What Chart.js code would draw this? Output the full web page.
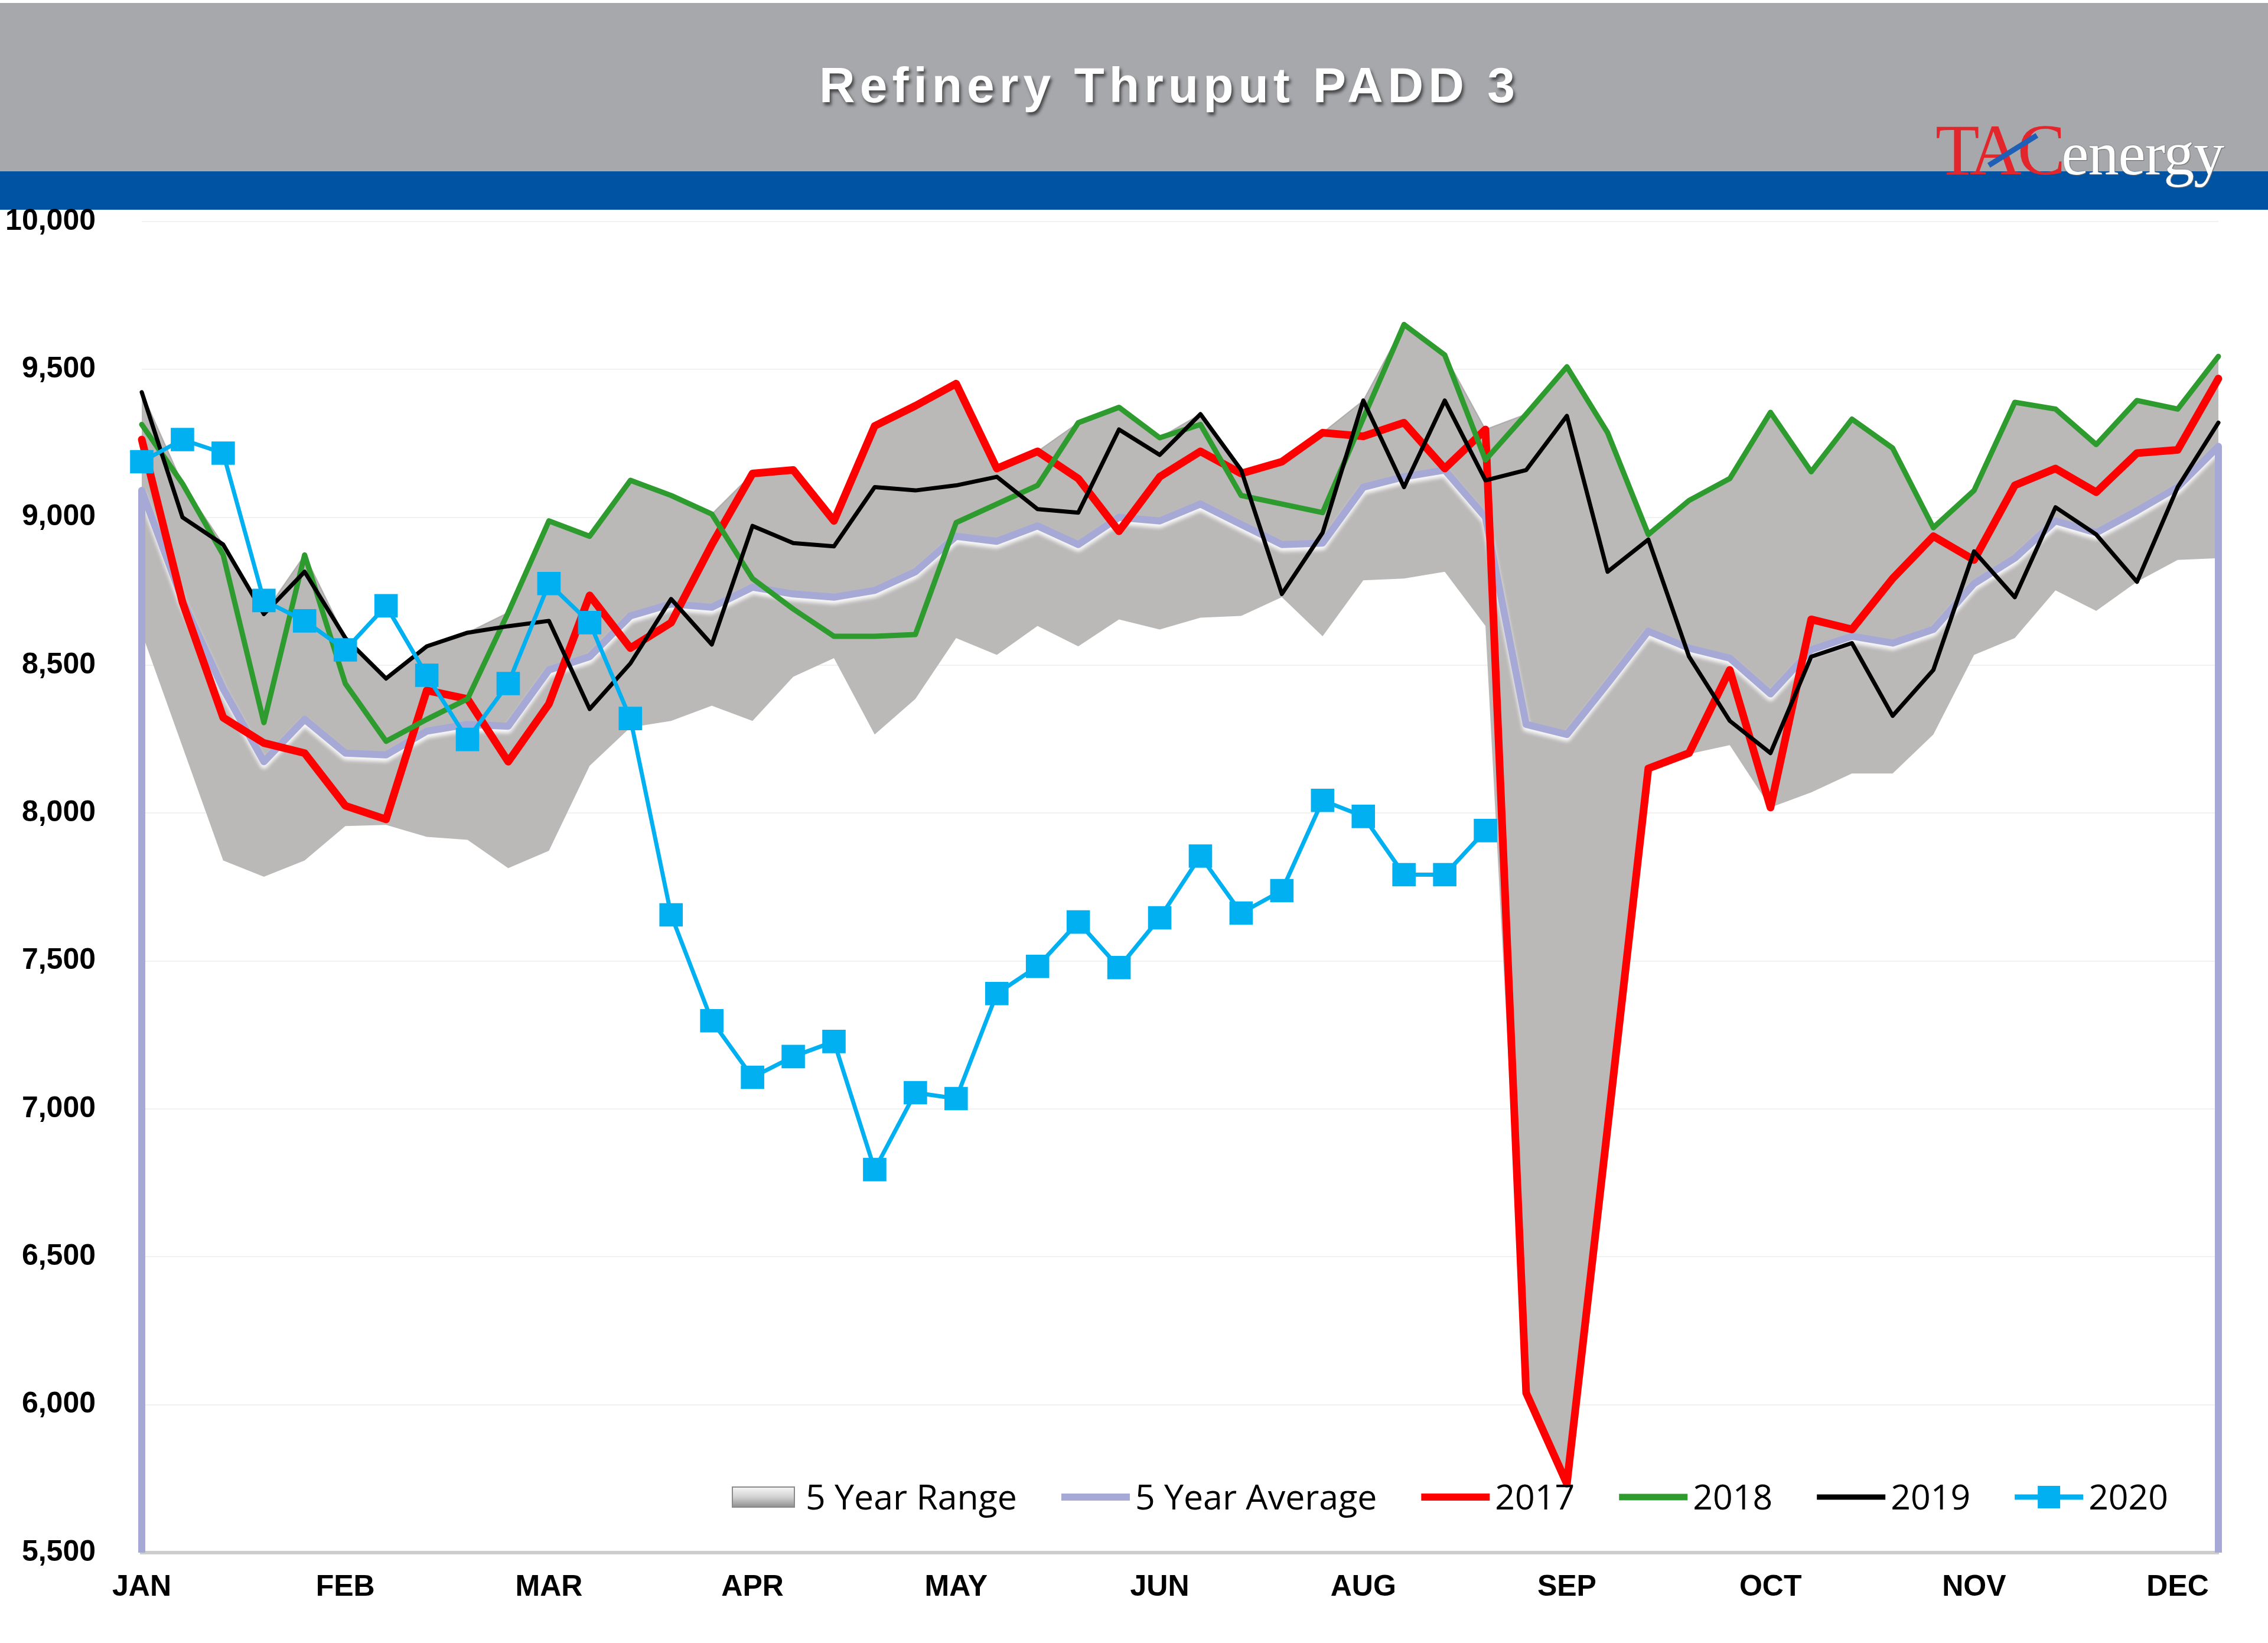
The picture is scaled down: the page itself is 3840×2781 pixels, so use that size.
<!DOCTYPE html>
<html>
<head>
<meta charset="utf-8">
<title>Refinery Thruput PADD 3</title>
<script src="https://cdn.jsdelivr.net/npm/chart.js@4.4.1/dist/chart.umd.min.js"></script>
<style>
  html, body { margin: 0; padding: 0; background: #fff; }
  #page { position: relative; width: 3840px; height: 2781px; overflow: hidden; background: #fff; }
  #band { position: absolute; left: 0; top: 5px; width: 3840px; height: 285px; background: #a7a8ac; }
  #stripe { position: absolute; left: 0; top: 290px; width: 3840px; height: 65px; background: #0053a3; }
  #title {
    position: absolute; left: 1980px; top: 102px; transform: translateX(-50%);
    font: bold 84px "Liberation Sans", Arial, sans-serif; line-height: 84px;
    letter-spacing: 8px; color: #fff; white-space: nowrap;
    text-shadow: 3px 5px 5px rgba(40, 40, 40, 0.75);
  }
  #logo { position: absolute; left: 3277px; top: 184px; white-space: nowrap; line-height: 1; }
  #logo .tac { font: 122px "Liberation Serif", "Times New Roman", serif; color: #e3262b; letter-spacing: -7px; }
  #logo .energy { font: 104px "Liberation Serif", "Times New Roman", serif; color: #fff; letter-spacing: -1px;
    text-shadow: 0 0 2px #6d6d6d, 1px 1px 1px #6d6d6d; }
  #slash { position: absolute; left: 3360px; top: 250px; width: 96px; height: 9px; background: #1f5fb5; transform: rotate(-32deg); }
  #chart { position: absolute; left: 0; top: 0; }
</style>
</head>
<body>
<div id="page">
  <div id="band"></div>
  <div id="stripe"></div>
  <div id="title">Refinery Thruput PADD 3</div>
  <div id="logo"><span class="tac">TAC</span><span class="energy">energy</span></div>
  <div id="slash"></div>
  <canvas id="chart" width="3840" height="2781"></canvas>
</div>
<script>
// weekly categories, month names shown every 5th week
const weeks = [1, 2, 3, 4, 5, 6, 7, 8, 9, 10, 11, 12, 13, 14, 15, 16, 17, 18, 19, 20, 21, 22, 23, 24, 25, 26,
    27, 28, 29, 30, 31, 32, 33, 34, 35, 36, 37, 38, 39, 40, 41, 42, 43, 44, 45, 46, 47, 48, 49, 50, 51, 52];
const monthTicks = ["JAN", "FEB", "MAR", "APR", "MAY", "JUN", "AUG", "SEP", "OCT", "NOV", "DEC"];

const rangeLow = [8610, 8225, 7840, 7785, 7840, 7956, 7960, 7920, 7910, 7814, 7873, 8160, 8290,
    8312, 8363, 8312, 8461, 8524, 8266, 8386, 8592, 8535, 8633, 8564, 8655, 8621,
    8661, 8667, 8730, 8598, 8787, 8793, 8816, 8633, 6040, 5733, 6937, 8151, 8200,
    8230, 8019, 8070, 8134, 8134, 8266, 8535, 8592, 8753, 8684, 8782, 8856, 8862];
const rangeHigh = [9423, 9114, 8908, 8673, 8873, 8592, 8455, 8564, 8610, 8678, 8988, 8936, 9125,
    9074, 9011, 9148, 9160, 8988, 9309, 9377, 9452, 9165, 9223, 9320, 9372, 9269,
    9349, 9160, 9188, 9286, 9395, 9652, 9549, 9297, 9349, 9509, 9286, 8942, 9057,
    9131, 9355, 9154, 9332, 9234, 8965, 9091, 9389, 9366, 9246, 9395, 9366, 9544];
const avg5 = [9091, 8720, 8420, 8174, 8317, 8203, 8197, 8277, 8300, 8294, 8484, 8529, 8667,
    8707, 8696, 8764, 8741, 8730, 8753, 8816, 8936, 8919, 8971, 8908, 9000, 8988,
    9045, 8976, 8908, 8913, 9102, 9137, 9160, 9000, 8300, 8266, 8438, 8615, 8558,
    8524, 8403, 8552, 8598, 8575, 8621, 8776, 8862, 8988, 8948, 9022, 9102, 9240];
const y2017 = [9263, 8713, 8323, 8237, 8203, 8025, 7979, 8415, 8386, 8174, 8369, 8736, 8558,
    8644, 8908, 9148, 9160, 8988, 9309, 9377, 9452, 9165, 9223, 9131, 8953, 9137,
    9223, 9148, 9188, 9286, 9274, 9320, 9165, 9297, 6040, 5733, 6937, 8151, 8203,
    8484, 8019, 8655, 8621, 8793, 8936, 8856, 9108, 9165, 9085, 9217, 9228, 9469];
const y2018 = [9314, 9114, 8873, 8306, 8873, 8438, 8243, 8317, 8386, 8678, 8988, 8936, 9125,
    9074, 9011, 8793, 8690, 8598, 8598, 8604, 8982, 9045, 9108, 9320, 9372, 9269,
    9314, 9074, 9045, 9016, 9335, 9652, 9549, 9194, 9349, 9509, 9286, 8942, 9057,
    9131, 9355, 9154, 9332, 9234, 8965, 9091, 9389, 9366, 9246, 9395, 9366, 9544];
const y2019 = [9423, 9000, 8908, 8673, 8816, 8592, 8455, 8564, 8610, 8632, 8650, 8352, 8506,
    8724, 8570, 8971, 8913, 8902, 9102, 9091, 9108, 9137, 9028, 9016, 9297, 9211,
    9349, 9160, 8741, 8948, 9395, 9102, 9395, 9125, 9160, 9343, 8816, 8925, 8529,
    8312, 8203, 8529, 8575, 8329, 8484, 8885, 8730, 9034, 8942, 8782, 9102, 9320];
const y2020 = [9188, 9263, 9217, 8719, 8650, 8552, 8701, 8466, 8249, 8438, 8776, 8644, 8320,
    7656, 7298, 7107, 7177, 7228, 6795, 7055, 7035, 7390, 7482, 7632, 7478, 7646,
    7855, 7662, 7738, 8043, 7989, 7792, 7792, 7941];

Chart.defaults.font.family = '"Liberation Sans", Arial, sans-serif';
Chart.defaults.color = "#000";

// soft white glow under the average line, plus the vertical drops at both ends
const avgDrops = {
    id: "avgDrops",
    beforeDatasetDraw(chart, args) {
        const ds = chart.data.datasets[args.index];
        if (ds.label !== "5 Year Average") return;
        const ctx = chart.ctx;
        ctx.save();
        ctx.shadowColor = "rgba(255,255,255,0.9)";
        ctx.shadowBlur = 6;
        ctx.shadowOffsetY = 6;
    },
    afterDatasetDraw(chart, args) {
        const ds = chart.data.datasets[args.index];
        if (ds.label !== "5 Year Average") return;
        const { ctx, chartArea, scales } = chart;
        ctx.restore();
        ctx.save();
        ctx.strokeStyle = ds.borderColor;
        ctx.lineWidth = 12;
        [0, ds.data.length - 1].forEach((i) => {
            const px = scales.x.getPixelForValue(i);
            ctx.beginPath();
            ctx.moveTo(px, scales.y.getPixelForValue(ds.data[i]));
            ctx.lineTo(px, chartArea.bottom);
            ctx.stroke();
        });
        ctx.restore();
    },
};

// legend drawn inside the plot, near the bottom
const insideLegend = {
    id: "insideLegend",
    afterDraw(chart) {
        const ctx = chart.ctx;
        const cy = chart.chartArea.bottom - 94;
        let x = 1240;
        ctx.save();
        ctx.font = '59px "Open Sans", "Liberation Sans", sans-serif';
        ctx.textBaseline = "alphabetic";
        chart.data.datasets.forEach((ds) => {
            if (!ds.label) return;
            if (ds.fill) {
                const g = ctx.createLinearGradient(0, cy - 17, 0, cy + 17);
                g.addColorStop(0, "#f6f6f6");
                g.addColorStop(0.5, "#d2d2d2");
                g.addColorStop(1, "#8f8f8f");
                ctx.fillStyle = g;
                ctx.fillRect(x, cy - 17, 105, 34);
                ctx.strokeStyle = "#8a8a8a";
                ctx.lineWidth = 2;
                ctx.strokeRect(x, cy - 17, 105, 34);
                x += 105 + 19;
            } else {
                ctx.strokeStyle = ds.borderColor;
                ctx.lineWidth = Math.min(ds.borderWidth + 2, 12);
                ctx.beginPath();
                ctx.moveTo(x, cy);
                ctx.lineTo(x + 116, cy);
                ctx.stroke();
                if (ds.pointRadius) {
                    ctx.fillStyle = ds.pointBackgroundColor;
                    ctx.fillRect(x + 58 - 19, cy - 19, 38, 38);
                }
                x += 116 + 9;
            }
            ctx.fillStyle = "#000";
            ctx.fillText(ds.label, x, cy + 21);
            x += ctx.measureText(ds.label).width + 75;
        });
        ctx.restore();
    },
};

const lineBase = { tension: 0, pointRadius: 0, borderJoinStyle: "round", borderCapStyle: "round", clip: false };

new Chart(document.getElementById("chart"), {
    type: "line",
    data: {
        labels: weeks,
        datasets: [
            { ...lineBase, label: "", data: rangeLow, borderColor: "rgba(0,0,0,0)", borderWidth: 1, fill: false, order: 7 },
            { ...lineBase, label: "5 Year Range", data: rangeHigh, borderColor: "rgba(150,146,146,0.6)", borderWidth: 2,
              fill: "-1", backgroundColor: "rgb(187,184,184)", order: 6 },
            { ...lineBase, label: "5 Year Average", data: avg5, borderColor: "rgb(166,168,214)", borderWidth: 12, order: 5 },
            { ...lineBase, label: "2017", data: y2017, borderColor: "#ff0000", borderWidth: 13, order: 4 },
            { ...lineBase, label: "2018", data: y2018, borderColor: "#2e9b2e", borderWidth: 9, order: 3 },
            { ...lineBase, label: "2019", data: y2019, borderColor: "#000000", borderWidth: 7, order: 2 },
            { ...lineBase, label: "2020", data: y2020, borderColor: "#00b0f0", borderWidth: 7, order: 1,
              pointStyle: "rect", pointRadius: 28, pointBorderWidth: 0, pointBackgroundColor: "#00b0f0" },
        ],
    },
    options: {
        responsive: false,
        animation: false,
        devicePixelRatio: 1,
        layout: { padding: { left: 0, right: 84, top: 375, bottom: 0 } },
        plugins: {
            legend: { display: false },
            tooltip: { enabled: false },
        },
        scales: {
            x: {
                grid: { display: false, drawTicks: false },
                border: { display: true, color: "#cdcdcd", width: 6 },
                ticks: {
                    autoSkip: false,
                    maxRotation: 0,
                    padding: 29,
                    font: { size: 50, weight: "bold" },
                    callback: (value, index) => (index % 5 === 0 ? monthTicks[index / 5] : ""),
                },
                afterFit: (scale) => { scale.height = 153; },
            },
            y: {
                min: 5500,
                max: 10000,
                grid: { color: "#f1f1f1", lineWidth: 2, drawTicks: false },
                border: { display: false },
                ticks: {
                    stepSize: 500,
                    padding: 78,
                    font: { size: 50, weight: "bold" },
                    callback: (v) => v.toLocaleString("en-US"),
                },
                afterFit: (scale) => { scale.width = 240; },
            },
        },
    },
    plugins: [avgDrops, insideLegend],
});
</script>
</body>
</html>
